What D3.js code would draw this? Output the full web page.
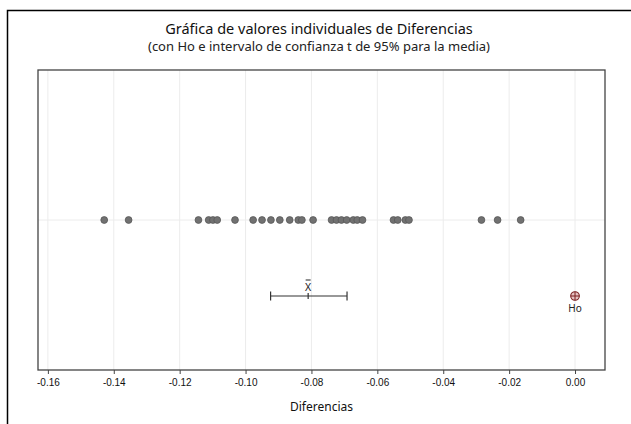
<!DOCTYPE html>
<html lang="es">
<head>
<meta charset="UTF-8">
<title>Gráfica de valores individuales de Diferencias</title>
<script src="https://cdn.jsdelivr.net/npm/d3@7"></script>
<style>
    body { margin: 0; background: #fff; }
    svg { display: block; font-family: "Noto Sans", "Open Sans", sans-serif; }
    .tick text { font-size: 10px; fill: #111; }
</style>
</head>
<body>
<svg id="chart" width="631" height="424"></svg>
<script>
// values
const diferencias = [
    -0.1429, -0.1355, -0.1143, -0.1112, -0.1099, -0.1086, -0.1032, -0.0977,
    -0.0950, -0.0923, -0.0896, -0.0866, -0.0840, -0.0829, -0.0795, -0.0739,
    -0.0724, -0.0709, -0.0693, -0.0673, -0.0661, -0.0645, -0.0551, -0.0538,
    -0.0515, -0.0504, -0.0284, -0.0235, -0.0165
];
const media = -0.0810;
const intervalo = [-0.0924, -0.0692];
const ho = 0.0;
const xTicks = [-0.16, -0.14, -0.12, -0.10, -0.08, -0.06, -0.04, -0.02, 0.00];

const svg = d3.select("#chart");
const plot = { left: 38, right: 605, top: 70, bottom: 370 };
const yPoints = 220, yCI = 296;

const x = d3.scaleLinear().domain([-0.163, 0.0091]).range([plot.left, plot.right]);

// outer frame (runs off the right and bottom edge)
svg.append("path")
    .attr("d", "M7.5,430 V10.5 H640")
    .attr("fill", "none")
    .attr("stroke", "#000")
    .attr("stroke-width", 1.5);

// titles
svg.append("text")
    .attr("x", 319).attr("y", 34)
    .attr("text-anchor", "middle")
    .attr("font-size", 14.5)
    .attr("fill", "#111")
    .text("Gráfica de valores individuales de Diferencias");
svg.append("text")
    .attr("x", 319).attr("y", 51)
    .attr("text-anchor", "middle")
    .attr("font-size", 13)
    .attr("fill", "#222")
    .text("(con Ho e intervalo de confianza t de 95% para la media)");

// gridlines
svg.append("g").selectAll("line")
    .data(xTicks)
    .join("line")
    .attr("x1", d => x(d)).attr("x2", d => x(d))
    .attr("y1", plot.top).attr("y2", plot.bottom)
    .attr("stroke", "#ececec");
svg.append("line")
    .attr("x1", plot.left).attr("x2", plot.right)
    .attr("y1", yPoints).attr("y2", yPoints)
    .attr("stroke", "#ececec");

// axis
const xAxis = d3.axisBottom(x)
    .tickValues(xTicks)
    .tickFormat(d => d.toFixed(2))
    .tickSize(4)
    .tickSizeOuter(0);
const gx = svg.append("g")
    .attr("transform", `translate(0,${plot.bottom})`)
    .call(xAxis);
gx.select(".domain").remove();
gx.selectAll(".tick line").attr("stroke", "#444");
gx.selectAll(".tick text").attr("dy", "0.9em");

// plot frame
svg.append("rect")
    .attr("x", plot.left).attr("y", plot.top)
    .attr("width", plot.right - plot.left)
    .attr("height", plot.bottom - plot.top)
    .attr("fill", "none")
    .attr("stroke", "#444")
    .attr("stroke-width", 1.3);

svg.append("text")
    .attr("x", (plot.left + plot.right) / 2).attr("y", 411)
    .attr("text-anchor", "middle")
    .attr("font-size", 12)
    .attr("fill", "#111")
    .text("Diferencias");

// individual values
svg.append("g").selectAll("circle")
    .data(diferencias)
    .join("circle")
    .attr("cx", d => x(d))
    .attr("cy", yPoints)
    .attr("r", 3.4)
    .attr("fill", "#717171")
    .attr("stroke", "#585858")
    .attr("stroke-width", 0.8);

// confidence interval for the mean
const ci = svg.append("g").attr("stroke", "#333").attr("stroke-width", 1.2);
ci.append("line")
    .attr("x1", x(intervalo[0])).attr("x2", x(intervalo[1]))
    .attr("y1", yCI).attr("y2", yCI);
ci.selectAll(".end")
    .data(intervalo)
    .join("line")
    .attr("x1", d => x(d)).attr("x2", d => x(d))
    .attr("y1", yCI - 4.5).attr("y2", yCI + 4.5);
ci.append("line")
    .attr("x1", x(media)).attr("x2", x(media))
    .attr("y1", yCI - 3).attr("y2", yCI + 3);

svg.append("text")
    .attr("x", x(media)).attr("y", yCI - 5)
    .attr("text-anchor", "middle")
    .attr("font-size", 10.5)
    .attr("fill", "#222")
    .text("X");
svg.append("line")
    .attr("x1", x(media) - 2.5).attr("x2", x(media) + 2.5)
    .attr("y1", yCI - 16).attr("y2", yCI - 16)
    .attr("stroke", "#222");

// hypothesised mean
const hx = x(ho);
svg.append("circle")
    .attr("cx", hx).attr("cy", yCI)
    .attr("r", 4.3)
    .attr("fill", "#e6c2c2")
    .attr("stroke", "#7a1f1f")
    .attr("stroke-width", 1.1);
svg.append("path")
    .attr("d", `M${hx - 4.3},${yCI} H${hx + 4.3} M${hx},${yCI - 4.3} V${yCI + 4.3}`)
    .attr("stroke", "#7a1f1f")
    .attr("stroke-width", 1);
svg.append("text")
    .attr("x", hx).attr("y", yCI + 16)
    .attr("text-anchor", "middle")
    .attr("font-size", 10)
    .attr("fill", "#222")
    .text("Ho");
</script>
</body>
</html>
